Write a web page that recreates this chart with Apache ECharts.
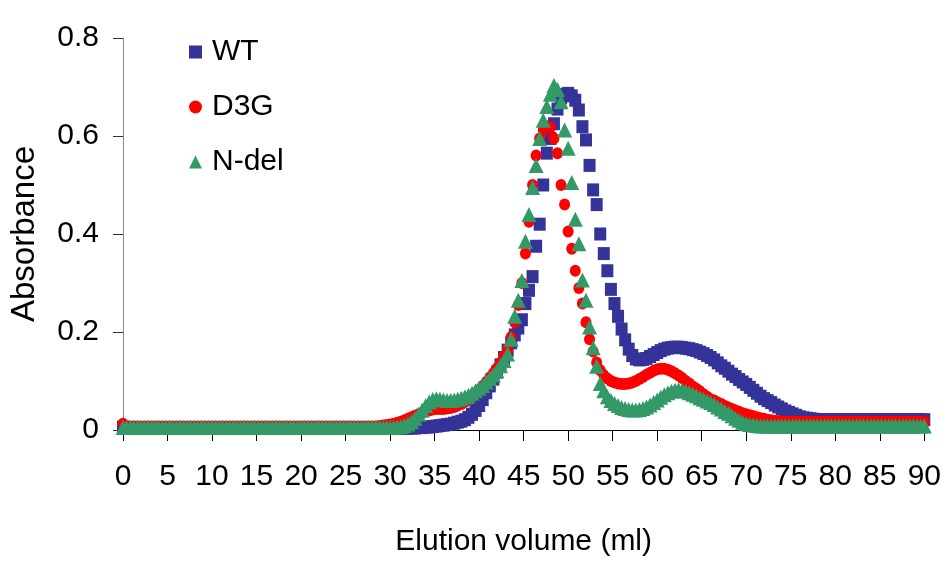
<!DOCTYPE html>
<html>
<head>
<meta charset="utf-8">
<script src="https://cdn.jsdelivr.net/npm/echarts@6/dist/echarts.min.js"></script>
<style>
html,body{margin:0;padding:0;background:#fff;}
#chart{width:944px;height:562px;}
</style>
</head>
<body>
<div id="chart"></div>
<script>
// Elution readings every STEP ml, from 0 to 90 ml
const STEP = 0.4;
const seriesNames = ['WT', 'D3G', 'N-del'];

const wt = [
0.006,0.004,0.004,0.004,0.004, 0.004,0.004,0.004,0.004,0.004,
0.004,0.004,0.004,0.004,0.004, 0.004,0.004,0.004,0.004,0.004,
0.004,0.004,0.004,0.004,0.004, 0.004,0.004,0.004,0.004,0.004,
0.004,0.004,0.004,0.004,0.004, 0.004,0.004,0.004,0.004,0.004,
0.004,0.004,0.004,0.004,0.004, 0.004,0.004,0.004,0.004,0.004,
0.004,0.004,0.004,0.004,0.004, 0.004,0.004,0.004,0.004,0.004,
0.004,0.004,0.004,0.004,0.004, 0.004,0.004,0.004,0.004,0.004,
0.004,0.004,0.004,0.004,0.004,
0.004,0.004,0.004,0.004,0.004,
0.004,0.004,0.004,0.005,0.005,
0.006,0.006,0.007,0.008,0.009,
0.010,0.011,0.012,0.014,0.016,
0.018,0.021,0.026,0.032,0.040,
0.050,0.062,0.076,0.090,0.104,
0.118,0.133,0.148,0.163,0.178,
0.194,0.208,0.225,0.258,0.285,
0.313,0.375,0.420,0.500,0.565,
0.595,0.625,0.655,0.678,0.685,
0.687,0.682,0.673,0.653,0.619,
0.592,0.540,0.490,0.460,0.400,
0.360,0.325,0.287,0.258,0.232,
0.206,0.184,0.165,0.152,0.145,
0.143,0.144,0.146,0.150,0.154,
0.158,0.162,0.165,0.167,0.168,
0.169,0.169,0.168,0.167,0.166,
0.164,0.162,0.159,0.156,0.152,
0.148,0.143,0.137,0.131,0.126,
0.120,0.114,0.109,0.103,0.098,
0.093,0.087,0.081,0.075,0.069,
0.064,0.060,0.056,0.051,0.047,
0.043,0.039,0.036,0.033,0.030,
0.027,0.025,0.024,0.023,0.022,
0.021,0.021,0.021,0.021,0.021,
0.021,0.021,0.021,0.021,0.021,
0.021,0.021,0.021,0.021,0.021,
0.021,0.021,0.021,0.021,0.021,
0.021,0.021,0.021,0.021,0.021,
0.021,0.021,0.021,0.021,0.021,
0.021
];

const d3g = [
0.013,0.007,0.007,0.007,0.007, 0.007,0.007,0.007,0.007,0.007,
0.007,0.007,0.007,0.007,0.007, 0.007,0.007,0.007,0.007,0.007,
0.007,0.007,0.007,0.007,0.007, 0.007,0.007,0.007,0.007,0.007,
0.007,0.007,0.007,0.007,0.007, 0.007,0.007,0.007,0.007,0.007,
0.007,0.007,0.007,0.007,0.007, 0.007,0.007,0.007,0.007,0.007,
0.007,0.007,0.007,0.007,0.007, 0.007,0.007,0.007,0.007,0.007,
0.007,0.007,0.007,0.007,0.007, 0.007,0.007,0.007,0.007,0.007,
0.007,0.007,0.008,0.009,0.010,
0.011,0.013,0.015,0.017,0.020,
0.023,0.026,0.029,0.032,0.035,
0.038,0.040,0.042,0.043,0.043,
0.043,0.044,0.045,0.047,0.050,
0.053,0.057,0.062,0.068,0.075,
0.082,0.090,0.098,0.107,0.116,
0.126,0.137,0.150,0.165,0.190,
0.220,0.255,0.300,0.360,0.425,
0.500,0.560,0.595,0.612,0.620,
0.618,0.595,0.565,0.500,0.460,
0.405,0.370,0.325,0.290,0.258,
0.220,0.185,0.160,0.138,0.122,
0.112,0.105,0.100,0.097,0.095,
0.094,0.094,0.095,0.097,0.100,
0.104,0.108,0.113,0.117,0.121,
0.124,0.125,0.125,0.123,0.120,
0.116,0.111,0.106,0.100,0.095,
0.089,0.084,0.079,0.073,0.068,
0.063,0.060,0.056,0.053,0.049,
0.046,0.043,0.040,0.037,0.034,
0.032,0.030,0.028,0.026,0.024,
0.023,0.021,0.020,0.019,0.018,
0.017,0.017,0.017,0.017,0.017,
0.017,0.017,0.017,0.017,0.017,
0.017,0.017,0.017,0.017,0.017,
0.017,0.017,0.017,0.017,0.017,
0.017,0.017,0.017,0.017,0.017,
0.017,0.017,0.017,0.017,0.017,
0.017,0.017,0.017,0.017,0.017,
0.017,0.017,0.017,0.017,0.017,
0.017
];

const ndel = [
0.005,0.005,0.005,0.005,0.005, 0.005,0.005,0.005,0.005,0.005,
0.005,0.005,0.005,0.005,0.005, 0.005,0.005,0.005,0.005,0.005,
0.005,0.005,0.005,0.005,0.005, 0.005,0.005,0.005,0.005,0.005,
0.005,0.005,0.005,0.005,0.005, 0.005,0.005,0.005,0.005,0.005,
0.005,0.005,0.005,0.005,0.005, 0.005,0.005,0.005,0.005,0.005,
0.005,0.005,0.005,0.005,0.005, 0.005,0.005,0.005,0.005,0.005,
0.005,0.005,0.005,0.005,0.005, 0.005,0.005,0.005,0.005,0.005,
0.005,0.005,0.005,0.005,0.005,
0.005,0.005,0.006,0.007,0.009,
0.012,0.017,0.024,0.032,0.041,
0.050,0.057,0.062,0.064,0.063,
0.061,0.060,0.060,0.061,0.063,
0.065,0.068,0.071,0.075,0.080,
0.085,0.091,0.098,0.105,0.112,
0.121,0.131,0.142,0.155,0.185,
0.232,0.265,0.305,0.385,0.440,
0.495,0.540,0.595,0.632,0.660,
0.685,0.703,0.695,0.670,0.612,
0.575,0.505,0.430,0.380,0.306,
0.265,0.210,0.168,0.130,0.095,
0.080,0.068,0.060,0.054,0.050,
0.046,0.044,0.042,0.041,0.041,
0.042,0.044,0.047,0.051,0.056,
0.061,0.067,0.072,0.076,0.079,
0.081,0.082,0.081,0.079,0.076,
0.073,0.070,0.066,0.063,0.059,
0.056,0.052,0.047,0.043,0.038,
0.034,0.029,0.024,0.020,0.016,
0.013,0.011,0.010,0.009,0.008,
0.008,0.008,0.008,0.008,0.008,
0.008,0.008,0.008,0.008,0.008,
0.008,0.008,0.008,0.008,0.008,
0.008,0.008,0.008,0.008,0.008,
0.008,0.008,0.008,0.008,0.008,
0.008,0.008,0.008,0.008,0.008,
0.008,0.008,0.008,0.008,0.008,
0.008,0.008,0.008,0.008,0.008,
0.008,0.008,0.008,0.008,0.008,
0.008
];

const FONT = '"Liberation Sans", Arial, Helvetica, sans-serif';
const toPairs = arr => arr.map((v, i) => [Math.round(i * STEP * 10) / 10, v]);

const chart = echarts.init(document.getElementById('chart'), null, {renderer: 'canvas'});
chart.setOption({
  animation: false,
  backgroundColor: '#ffffff',
  grid: {left: 120, right: 18, top: 38, bottom: 132, containLabel: false},
  legend: {
    orient: 'vertical',
    left: 184,
    top: 32,
    itemGap: 25,
    itemWidth: 13,
    itemHeight: 13,
    textStyle: {fontFamily: FONT, fontSize: 30, color: '#000', padding: [0, 0, 0, 5]},
    data: [
      {name: seriesNames[0], icon: 'rect'},
      {name: seriesNames[1], icon: 'circle'},
      {name: seriesNames[2], icon: 'triangle'}
    ]
  },
  xAxis: {
    type: 'value', min: 0, max: 90, interval: 5,
    name: 'Elution volume (ml)', nameLocation: 'middle', nameGap: 97,
    nameTextStyle: {fontFamily: FONT, fontSize: 30, color: '#000'},
    axisLine: {show: true, onZero: true, lineStyle: {color: '#000', width: 1}},
    axisTick: {show: true, inside: false, length: 11, lineStyle: {color: '#000', width: 1}},
    axisLabel: {margin: 32, fontFamily: FONT, fontSize: 30, color: '#000'},
    splitLine: {show: false}
  },
  yAxis: {
    type: 'value', min: 0, max: 0.8, interval: 0.2,
    name: 'Absorbance', nameLocation: 'middle', nameGap: 82, nameRotate: 90,
    nameTextStyle: {fontFamily: FONT, fontSize: 33, color: '#000'},
    axisLine: {show: true, lineStyle: {color: '#888', width: 1}},
    axisTick: {show: true, inside: false, length: 10, lineStyle: {color: '#333', width: 1}},
    axisLabel: {margin: 24, fontFamily: FONT, fontSize: 30, color: '#000'},
    splitLine: {show: false}
  },
  series: [
    {name: seriesNames[0], type: 'scatter', symbol: 'rect', symbolSize: [12, 13],
     itemStyle: {color: '#333399', opacity: 1}, data: toPairs(wt)},
    {name: seriesNames[1], type: 'scatter', symbol: 'circle', symbolSize: [11, 12],
     itemStyle: {color: '#ff0000', opacity: 1}, data: toPairs(d3g)},
    {name: seriesNames[2], type: 'scatter', symbol: 'triangle', symbolSize: [15, 15],
     itemStyle: {color: '#339966', opacity: 1}, data: toPairs(ndel)}
  ]
});
</script>
</body>
</html>
